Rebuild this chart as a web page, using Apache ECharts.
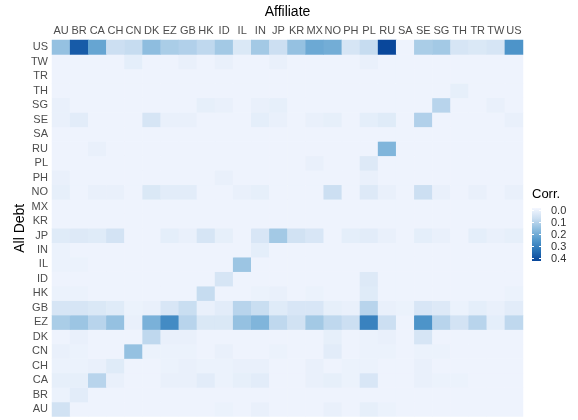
<!DOCTYPE html>
<html>
<head>
<meta charset="utf-8">
<script src="https://cdn.jsdelivr.net/npm/echarts@6/dist/echarts.min.js"></script>
<style>
  html, body { margin: 0; padding: 0; background: #fff; }
  #main { width: 578px; height: 420px; }
</style>
</head>
<body>
<div id="main"></div>
<script>
// column order (affiliate) and row order (all debt, bottom to top)
var affiliates = ['AU','BR','CA','CH','CN','DK','EZ','GB','HK','ID','IL','IN','JP','KR','MX','NO','PH','PL','RU','SA','SE','SG','TH','TR','TW','US'];
var debtors = affiliates.slice();
var legendTicks = [0.0, 0.1, 0.2, 0.3, 0.4];

// one row per debtor, values in affiliate order
var rowAU = [0.06,0,0,0,0,0,0,0,0,0.005,0,0.01,0,0,0,0.01,0,0.015,0.005,0,0,0,0,0,0,0];
var rowBR = [0.005,0.025,0,0,0,0,0,0,0,0,0,0,0,0,0,0,0,0,0,0,0,0,0,0,0,0];
var rowCA = [0.015,0.015,0.1,0.01,0,0,0.01,0.01,0.025,0.005,0.015,0.025,0,0,0.01,0.015,0.005,0.045,0,0,0.01,0.005,0.005,0,0,0];
var rowCH = [0.005,0.005,0.01,0.03,0,0,0.005,0.01,0.005,0.005,0.01,0.01,0,0,0.01,0,0.005,0.005,0,0,0.01,0,0,0,0,0];
var rowCN = [0.01,0.005,0,0,0.15,0.005,0.005,0.005,0,0.01,0,0,0.005,0,0,0.025,0,0.005,0.005,0,0.005,0.005,0,0,0,0];
var rowDK = [0,0.01,0,0,0,0.09,0.01,0.01,0,0,0,0,0,0,0,0.015,0,0.005,0.01,0,0.05,0,0,0,0,0];
var rowEZ = [0.12,0.14,0.1,0.15,0.01,0.19,0.28,0.1,0.04,0.04,0.15,0.18,0.09,0.06,0.13,0.09,0.07,0.3,0.07,0,0.26,0.1,0.055,0.1,0.02,0.09];
var rowGB = [0.05,0.05,0.04,0.03,0.005,0.01,0.045,0.075,0.01,0.025,0.1,0.075,0.03,0.045,0.045,0.015,0.01,0.1,0.01,0.005,0.045,0.035,0.005,0.02,0.01,0.025];
var rowHK = [0.005,0.005,0,0,0,0,0,0,0.08,0,0,0.005,0.01,0,0.005,0,0,0.03,0,0,0,0,0,0,0,0.005];
var rowID = [0,0,0,0,0,0,0,0,0,0.05,0,0,0,0,0,0,0,0.035,0,0,0,0,0,0,0,0];
var rowIL = [0.005,0.005,0,0,0,0,0,0,0,0,0.14,0,0,0,0,0,0,0,0,0,0,0,0,0,0,0];
var rowIN = [0.005,0,0,0,0,0,0,0,0,0,0,0.02,0,0,0,0,0,0,0,0,0,0,0,0,0,0];
var rowJP = [0.03,0.035,0.03,0.055,0,0,0.02,0.01,0.05,0.015,0,0.045,0.13,0.06,0.045,0,0.02,0.025,0.01,0,0.02,0.01,0,0.02,0.01,0.015];
var rowKR = [0,0,0,0,0,0,0,0,0,0,0,0,0,0,0,0,0,0,0,0,0,0,0,0,0,0];
var rowMX = [0,0,0,0,0,0,0,0,0,0,0,0,0,0,0,0,0,0,0,0,0,0,0,0,0,0];
var rowNO = [0.015,0,0.01,0.01,0,0.04,0.025,0.025,0,0,0.01,0.015,0,0,0,0.07,0,0.035,0.01,0,0.07,0.01,0,0.01,0,0.01];
var rowPH = [0.01,0,0,0,0,0,0,0,0,0.01,0,0,0,0,0,0,0,0.01,0,0,0,0,0,0,0,0];
var rowPL = [0,0,0,0,0,0,0,0,0,0,0,0,0,0,0.01,0,0,0.035,0,0,0,0,0,0,0,0];
var rowRU = [0,0,0.01,0,0,0,0,0,0,0,0,0,0,0,0,0,0,0,0.18,0,0,0,0,0,0,0];
var rowSA = [0,0,0,0,0,0,0,0,0,0,0,0,0,0,0,0,0,0,0,0,0,0,0,0,0,0];
var rowSE = [0.01,0.025,0,0,0,0.05,0.01,0.01,0,0,0,0.02,0.01,0,0.01,0.015,0,0.02,0.03,0,0.11,0,0,0,0,0.01];
var rowSG = [0.01,0,0,0,0,0,0,0,0.015,0.01,0,0.01,0.015,0,0,0,0,0,0,0,0,0.1,0,0,0.01,0];
var rowTH = [0,0,0,0,0,0,0,0,0,0,0,0,0,0,0,0,0,0,0,0,0,0,0.015,0,0,0];
var rowTR = [0,0,0,0,0,0,0,0,0,0,0,0,0,0,0,0,0,0,0,0,0,0,0,0,0,0];
var rowTW = [0,0,0,0,0.02,0,0,0.01,0,0.01,0,0,0.01,0,0,0,0,0.01,0,0,0,0,0,0,0,0];
var rowUS = [0.15,0.38,0.22,0.07,0.08,0.16,0.12,0.11,0.09,0.13,0.04,0.13,0.07,0.15,0.21,0.2,0.05,0.08,0.42,0,0.12,0.13,0.05,0.04,0.05,0.26];

var rows = [rowAU,rowBR,rowCA,rowCH,rowCN,rowDK,rowEZ,rowGB,rowHK,rowID,rowIL,rowIN,rowJP,
            rowKR,rowMX,rowNO,rowPH,rowPL,rowRU,rowSA,rowSE,rowSG,rowTH,rowTR,rowTW,rowUS];

var cells = [];
rows.forEach(function (r, yi) {
  r.forEach(function (v, xi) { cells.push([xi, yi, v]); });
});

var vMin = -0.013, vMax = 0.422;
var ramp = ['#f4f7ff', '#cadef1', '#8dbddf', '#5399cc', '#2772b6', '#08469a'];
var barLeft = 532, barTop = 208, barW = 9, barH = 53;

// colour bar drawn by hand so it sits exactly like the ggplot guide
var graphics = [{
  type: 'text', left: barLeft, top: 188,
  style: { text: 'Corr.', font: '13px "Liberation Sans", Arial, sans-serif', fill: '#000' }
}, {
  type: 'rect', shape: { x: barLeft, y: barTop, width: barW, height: barH },
  style: {
    fill: new echarts.graphic.LinearGradient(0, 0, 0, 1, ramp.map(function (c, i) {
      return { offset: i / (ramp.length - 1), color: c };
    }))
  }
}];
legendTicks.forEach(function (t) {
  var y = Math.round(barTop + (t - vMin) / (vMax - vMin) * barH) + 0.5;
  graphics.push({
    type: 'text', x: 551, y: y,
    style: { text: t.toFixed(1), font: '11px "Liberation Sans", Arial, sans-serif', fill: '#333',
             textVerticalAlign: 'middle' }
  });
  graphics.push({ type: 'line', shape: { x1: barLeft, y1: y, x2: barLeft + 2, y2: y },
    style: { stroke: '#fff', lineWidth: 1 }, z: 100 });
  graphics.push({ type: 'line', shape: { x1: barLeft + barW - 2, y1: y, x2: barLeft + barW, y2: y },
    style: { stroke: '#fff', lineWidth: 1 }, z: 100 });
});

var myChart = echarts.init(document.getElementById('main'));
myChart.setOption({
  animation: false,
  textStyle: { fontFamily: '"Liberation Sans", Arial, sans-serif' },
  grid: { left: 52, right: 55, top: 32, bottom: 3.5 },
  xAxis: {
    type: 'category', position: 'top', data: affiliates,
    name: 'Affiliate', nameLocation: 'middle', nameGap: 21,
    nameTextStyle: { fontSize: 14, color: '#000' },
    axisLine: { show: false }, axisTick: { show: false }, splitLine: { show: false },
    axisLabel: { color: '#4d4d4d', fontSize: 11, margin: 4, interval: 0 }
  },
  yAxis: {
    type: 'category', data: debtors,
    name: 'All Debt', nameLocation: 'middle', nameGap: 25, nameRotate: 90,
    nameMoveOverlap: false,
    nameTextStyle: { fontSize: 14, color: '#000' },
    axisLine: { show: false }, axisTick: { show: false }, splitLine: { show: false },
    axisLabel: { color: '#4d4d4d', fontSize: 11, margin: 4, interval: 0 }
  },
  visualMap: {
    type: 'continuous', show: false, min: vMin, max: vMax,
    inRange: { color: ramp }
  },
  graphic: graphics,
  series: [{
    type: 'heatmap', data: cells,
    itemStyle: { borderWidth: 0 },
    emphasis: { disabled: true }
  }]
});
</script>
</body>
</html>
